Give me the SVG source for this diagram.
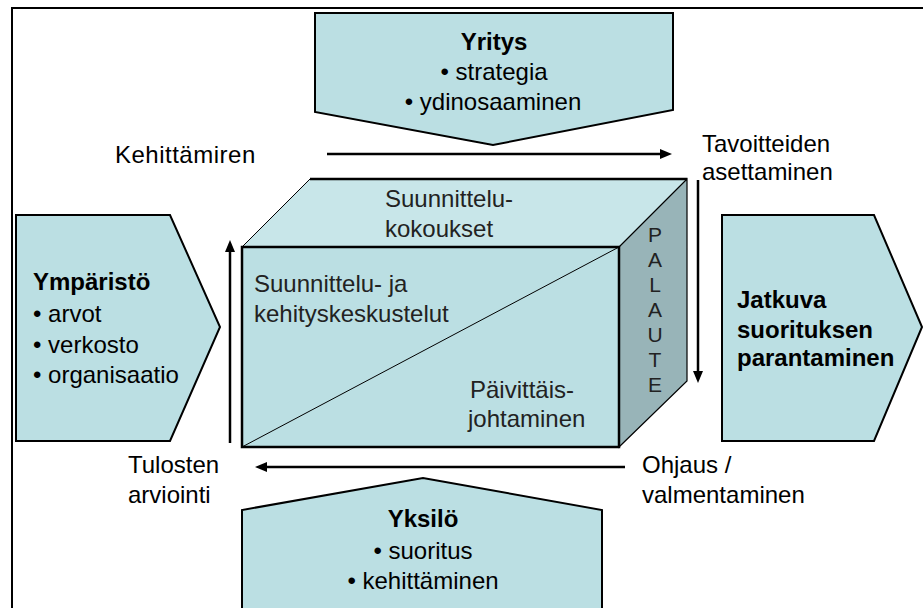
<svg xmlns="http://www.w3.org/2000/svg" width="923" height="608" viewBox="0 0 923 608">
<style>
.t{font-family:"Liberation Sans",Arial,sans-serif;font-size:24px;fill:#000}
.b{font-weight:bold}
.thin{fill:#222}
.v{font-size:21px}
.box{fill:#bbdfe3;stroke:#000;stroke-width:2}
.conn{stroke:#000;stroke-width:2.5;fill:none}
</style>
<defs>
<marker id="ah" viewBox="0 0 12 10" refX="2" refY="5" markerWidth="12" markerHeight="10" orient="auto" markerUnits="userSpaceOnUse">
<path d="M0,0 L12,5 L0,10 z" fill="#000"/>
</marker>
</defs>
<rect x="0" y="0" width="923" height="608" fill="#fff"/>
<path d="M12,608 L12,8 L923,8" fill="none" stroke="#000" stroke-width="2"/>

<g id="yritys">
<polygon class="box" points="315,13 673,13 673,110 493,145 315,112"/>
<text class="t b" x="494" y="50" text-anchor="middle">Yritys</text>
<text class="t" x="494" y="80" text-anchor="middle">• strategia</text>
<text class="t" x="493" y="110" text-anchor="middle">• ydinosaaminen</text>
</g>

<g id="ymparisto">
<polygon class="box" points="16,215 170,215 220,327 170,441 16,441"/>
<text class="t b" x="33" y="290">Ympäristö</text>
<text class="t" x="33" y="322">• arvot</text>
<text class="t" x="33" y="353">• verkosto</text>
<text class="t" x="33" y="383">• organisaatio</text>
</g>

<g id="jatkuva">
<polygon class="box" points="722,215 874,215 922,327 874,441 722,441"/>
<text class="t b" x="737" y="308">Jatkuva</text>
<text class="t b" x="737" y="338">suorituksen</text>
<text class="t b" x="737" y="366">parantaminen</text>
</g>

<g id="yksilo">
<polygon class="box" points="242,610 242,510 423,478 602,510 602,610"/>
<text class="t b" x="423" y="527" text-anchor="middle">Yksilö</text>
<text class="t" x="423" y="559" text-anchor="middle">• suoritus</text>
<text class="t" x="423" y="589" text-anchor="middle">• kehittäminen</text>
</g>

<g id="cube">
<polygon points="242,247 310,179 687,179 619,247" fill="#c8e6e9" stroke="#000" stroke-width="1"/>
<line x1="310" y1="179" x2="687" y2="179" stroke="#000" stroke-width="2.5"/>
<polygon points="619,247 687,179 687,381 619,447" fill="#98b4b8" stroke="#000" stroke-width="1.2"/>
<rect x="242" y="247" width="377" height="200" fill="#bbdfe3" stroke="#000" stroke-width="2.5"/>
<line x1="242" y1="447" x2="619" y2="247" stroke="#000" stroke-width="1"/>
<text class="t thin" x="385" y="207">Suunnittelu-</text>
<text class="t thin" x="385" y="237">kokoukset</text>
<text class="t thin" x="254" y="292">Suunnittelu- ja</text>
<text class="t thin" x="254" y="322">kehityskeskustelut</text>
<text class="t thin" x="470" y="398">Päivittäis-</text>
<text class="t thin" x="468" y="427">johtaminen</text>
<g text-anchor="middle">
<text class="t thin v" x="655" y="242">P</text>
<text class="t thin v" x="655" y="267">A</text>
<text class="t thin v" x="655" y="292">L</text>
<text class="t thin v" x="655" y="317">A</text>
<text class="t thin v" x="655" y="342">U</text>
<text class="t thin v" x="655" y="367">T</text>
<text class="t thin v" x="655" y="392">E</text>
</g>
</g>

<g id="connectors">
<line class="conn" x1="327" y1="154" x2="662" y2="154" marker-end="url(#ah)"/>
<line class="conn" x1="698" y1="180" x2="698" y2="373" marker-end="url(#ah)"/>
<line class="conn" x1="625" y1="467" x2="265" y2="467" marker-end="url(#ah)"/>
<line class="conn" x1="230" y1="443" x2="230" y2="250" marker-end="url(#ah)"/>
</g>

<g id="labels">
<text class="t" x="115" y="163" letter-spacing="0.5">Kehittämiren</text>
<text class="t" x="702" y="152">Tavoitteiden</text>
<text class="t" x="702" y="180">asettaminen</text>
<text class="t" x="128" y="473">Tulosten</text>
<text class="t" x="128" y="503">arviointi</text>
<text class="t" x="642" y="473">Ohjaus /</text>
<text class="t" x="642" y="503">valmentaminen</text>
</g>
</svg>
